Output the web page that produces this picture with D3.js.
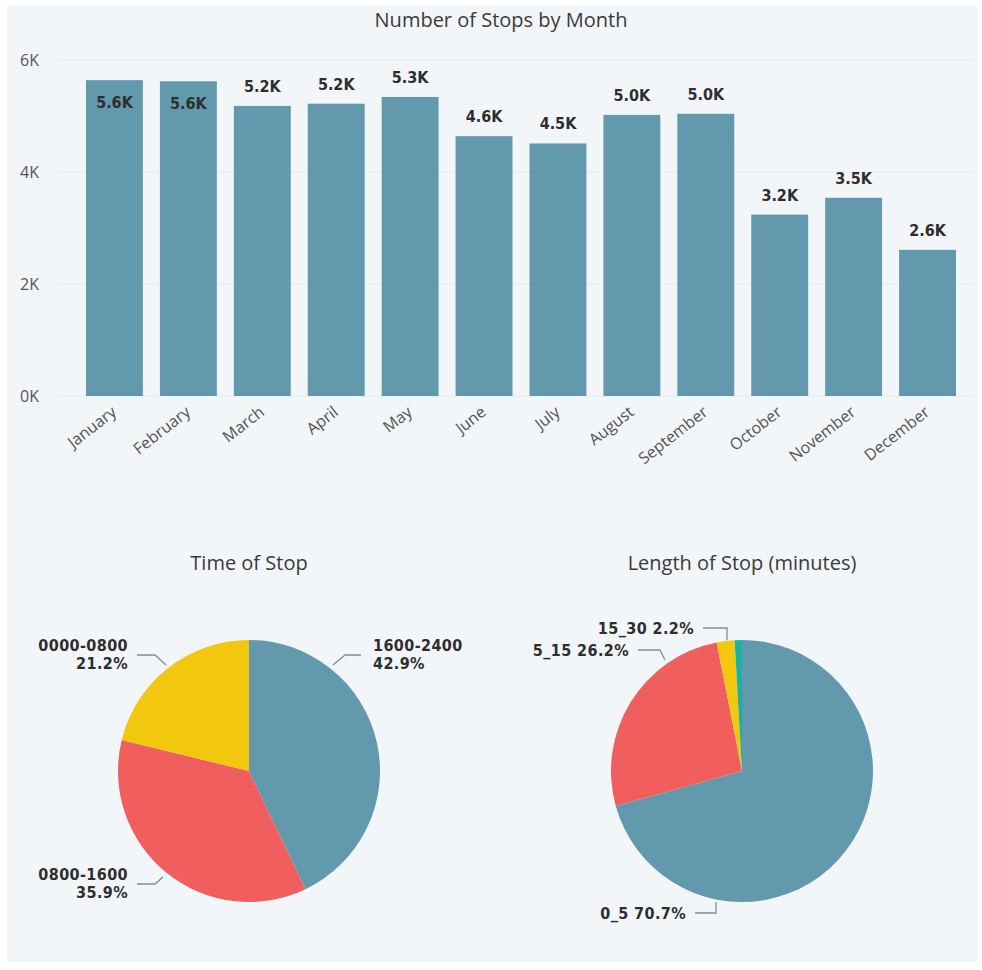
<!DOCTYPE html>
<html lang="en">
    <head>
        <meta charset="utf-8">
        <title>Stops dashboard</title>
        <script type="text/javascript" src="https://cdn.jsdelivr.net/npm/d3@7"></script>
        <style type="text/css">
            body { margin: 0; background: #ffffff; }
        </style>
    </head>
    <body>
        <script type="text/javascript">

          //Width and height
          var w = 982;
          var h = 970;

          //Bar chart data
          var months = ["January", "February", "March", "April", "May", "June",
                        "July", "August", "September", "October", "November", "December"];
          var stops = [5640, 5620, 5180, 5220, 5340, 4640, 4510, 5020, 5040, 3240, 3540, 2610];
          var yTicks = [0, 2000, 4000, 6000];

          //Time of stop pie
          var timeCats = ["1600-2400", "0800-1600", "0000-0800"];
          var timePct = [42.9, 35.9, 21.2];

          //Length of stop pie (last slice has no label in the picture)
          var lengthCats = ["0_5", "5_15", "15_30", "30+"];
          var lengthPct = [70.7, 26.2, 2.2, 0.9];

          var colors = ["#6399ad", "#f05f5e", "#f2c80f", "#1bb0a8"];
          var labelFont = "DejaVu Sans Condensed";

          var svg = d3.select("body")
                      .append("svg")
                      .attr("width", w)
                      .attr("height", h);

          //background panel
          svg.append("rect")
             .attr("x", 7)
             .attr("y", 5)
             .attr("width", 970)
             .attr("height", 957)
             .attr("fill", "#f3f6f8");

          //---------- Bar chart ----------
          var xScale = d3.scaleBand()
                         .domain(months)
                         .range([77.5, 964.5])
                         .paddingInner(0.23)
                         .paddingOuter(0.115);

          var yScale = d3.scaleLinear()
                         .domain([0, 6000])
                         .range([396, 60]);

          svg.append("text")
             .attr("x", 501)
             .attr("y", 27)
             .attr("text-anchor", "middle")
             .attr("font-family", "Open Sans")
             .attr("font-size", "20px")
             .attr("fill", "#3a3a3a")
             .text("Number of Stops by Month");

          //gridlines
          svg.selectAll("line.grid")
             .data(yTicks)
             .enter()
             .append("line")
             .attr("class", "grid")
             .attr("x1", 58)
             .attr("x2", 975)
             .attr("y1", function(d) { return yScale(d); })
             .attr("y2", function(d) { return yScale(d); })
             .attr("stroke", "#e6eaed")
             .attr("stroke-width", 1);

          //y axis labels
          var yAxis = d3.axisLeft(yScale)
                        .tickValues(yTicks)
                        .tickSize(0)
                        .tickPadding(0)
                        .tickFormat(function(d) { return (d / 1000) + "K"; });

          var yAxisG = svg.append("g")
                          .attr("transform", "translate(39,0)")
                          .call(yAxis);
          yAxisG.select(".domain").remove();
          yAxisG.selectAll("text")
                .attr("font-family", "Open Sans")
                .attr("font-size", "16px")
                .attr("fill", "#555");

          //bars
          svg.selectAll("rect.bar")
             .data(stops)
             .enter()
             .append("rect")
             .attr("class", "bar")
             .attr("x", function(d, i) { return xScale(months[i]); })
             .attr("y", function(d) { return yScale(d); })
             .attr("width", xScale.bandwidth())
             .attr("height", function(d) { return yScale(0) - yScale(d); })
             .attr("fill", colors[0]);

          //data labels, inside the bar if no room above
          svg.selectAll("text.val")
             .data(stops)
             .enter()
             .append("text")
             .attr("class", "val")
             .attr("x", function(d, i) { return xScale(months[i]) + xScale.bandwidth() / 2; })
             .attr("y", function(d) {
                 var top = yScale(d);
                 return top - 32 < 50 ? top + 28 : top - 14;
             })
             .attr("text-anchor", "middle")
             .attr("font-family", labelFont)
             .attr("font-weight", "bold")
             .attr("font-size", "16px")
             .attr("fill", "#2e2e2e")
             .text(function(d) { return (d / 1000).toFixed(1) + "K"; });

          //x axis labels (rotated)
          var xAxis = d3.axisBottom(xScale).tickSize(0).tickPadding(0);
          var xAxisG = svg.append("g")
                          .attr("transform", "translate(0,405)")
                          .call(xAxis);
          xAxisG.select(".domain").remove();
          xAxisG.selectAll("text")
                .attr("font-family", "Open Sans")
                .attr("font-size", "16px")
                .attr("fill", "#555")
                .attr("text-anchor", "end")
                .attr("dy", "0.72em")
                .attr("transform", "translate(-4,0) rotate(-38)");

          //---------- Pie charts ----------
          function drawPie(cx, cy, r, title, cats, vals, labels) {
              var g = svg.append("g").attr("transform", "translate(" + cx + "," + cy + ")");

              svg.append("text")
                 .attr("x", cx)
                 .attr("y", 570)
                 .attr("text-anchor", "middle")
                 .attr("font-family", "Open Sans")
                 .attr("font-size", "20px")
                 .attr("fill", "#3a3a3a")
                 .text(title);

              var pie = d3.pie().sort(null).value(function(d) { return d; });
              var arc = d3.arc().innerRadius(0).outerRadius(r);
              var arcs = pie(vals);

              g.selectAll("path")
               .data(arcs)
               .enter()
               .append("path")
               .attr("d", arc)
               .attr("fill", function(d, i) { return colors[i]; });

              //leader lines + labels
              labels.forEach(function(lb) {
                  g.append("path")
                   .attr("d", d3.line()(lb.pts))
                   .attr("fill", "none")
                   .attr("stroke", "#8a8a8a")
                   .attr("stroke-width", 1.3);

                  var t = g.append("text")
                           .attr("x", lb.tx)
                           .attr("y", lb.ty)
                           .attr("text-anchor", lb.anchor)
                           .attr("font-family", labelFont)
                           .attr("font-weight", "bold")
                           .attr("font-size", "16px")
                           .attr("letter-spacing", "0.4px")
                           .attr("fill", "#2e2e2e");
                  lb.lines.forEach(function(s, k) {
                      t.append("tspan")
                       .attr("x", lb.tx)
                       .attr("dy", k === 0 ? 0 : "1.15em")
                       .text(s);
                  });
              });
          }

          var tLbl = function(i) { return timeCats[i]; };
          var tVal = function(i) { return timePct[i].toFixed(1) + "%"; };

          drawPie(249, 771, 131, "Time of Stop", timeCats, timePct, [
              { pts: [[84, -106], [96, -116], [112, -116]], tx: 124, ty: -120, anchor: "start", lines: [tLbl(0), tVal(0)] },
              { pts: [[-86, 106], [-94, 113], [-112, 113]], tx: -121, ty: 109, anchor: "end", lines: [tLbl(1), tVal(1)] },
              { pts: [[-83, -106], [-94, -116], [-112, -116]], tx: -121, ty: -120, anchor: "end", lines: [tLbl(2), tVal(2)] }
          ]);

          var lLbl = function(i) { return lengthCats[i] + " " + lengthPct[i].toFixed(1) + "%"; };

          drawPie(742, 771, 131, "Length of Stop (minutes)", lengthCats, lengthPct, [
              { pts: [[-26, 131], [-26, 142], [-47, 142]], tx: -56, ty: 148, anchor: "end", lines: [lLbl(0)] },
              { pts: [[-77, -111], [-82, -121], [-104, -121]], tx: -113, ty: -115, anchor: "end", lines: [lLbl(1)] },
              { pts: [[-15, -131], [-15, -143], [-39, -143]], tx: -48, ty: -137, anchor: "end", lines: [lLbl(2)] }
          ]);

        </script>
    </body>
</html>
